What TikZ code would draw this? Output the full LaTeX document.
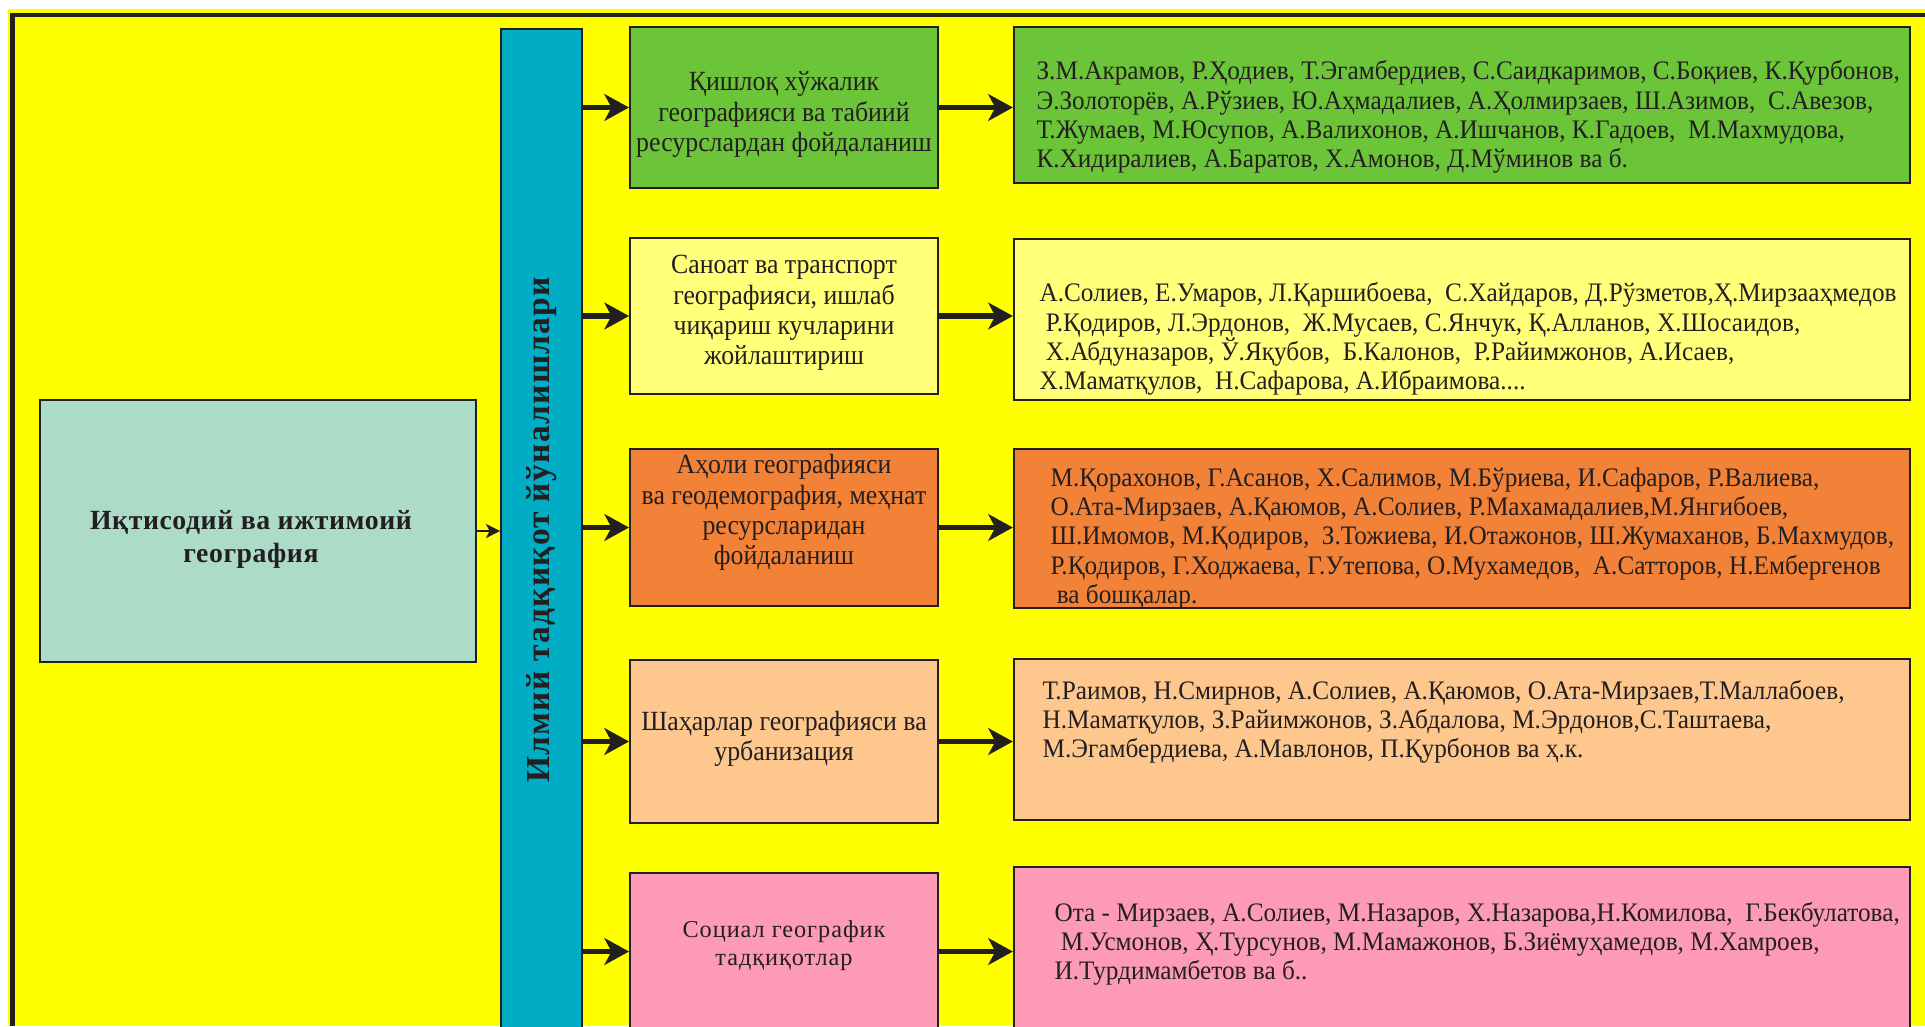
\documentclass[tikz,border=0pt]{standalone}
\usepackage{fontspec}
\setmainfont{Liberation Serif}
\usetikzlibrary{arrows.meta}

\definecolor{bgyel}{RGB}{255,255,0}
\definecolor{barblue}{RGB}{0,173,196}
\definecolor{mint}{RGB}{172,219,200}
\definecolor{agrgreen}{RGB}{108,196,56}
\definecolor{indyel}{RGB}{255,255,122}
\definecolor{poporange}{RGB}{242,130,56}
\definecolor{citypeach}{RGB}{253,199,141}
\definecolor{socpink}{RGB}{253,155,182}
\definecolor{ink}{RGB}{35,31,32}

\begin{document}
\begin{tikzpicture}[x=0.01cm, y=-0.01cm,
  box/.style={draw=ink, line width=0.5pt, inner sep=0pt},
  mid/.style={box, minimum width=3.08cm},
  names/.style={box, minimum width=8.96cm},
  midtext/.style={align=center, inner sep=0pt, text=ink, font=\fontsize{7.9}{8.6}\selectfont\addfontfeature{FakeStretch=0.93}},
  namestext/.style={align=left, anchor=west, inner sep=0pt, text=ink, font=\fontsize{7.6}{8.3}\selectfont\addfontfeature{FakeStretch=0.945}},
  arr/.style={line width=1.5pt, draw=ink, -{Stealth[length=7pt,width=7.6pt,inset=2pt]}},
  thinarr/.style={line width=0.5pt, draw=ink, -{Stealth[length=4pt,width=4pt,inset=1pt]}}]
\useasboundingbox (0,0) rectangle (1925,1026);
\clip (0,0) rectangle (1925,1026);
\fill[bgyel] (8,9) rectangle (1925,1026); % background
\draw[ink, line width=1.3pt] (12.5,1026) -- (12.5,15) -- (1925,15); % frame

\node[box, fill=mint, minimum width=4.355cm, minimum height=2.62cm] (econ) at (258,531) {}; % root
\node[text=ink, align=center, inner sep=0pt, font=\bfseries\fontsize{7.9}{9.4}\selectfont\addfontfeature{LetterSpace=2}]
  (econtext) at ([shift={(-7,8)}]econ.center) {Иқтисодий ва ижтимоий\\география};
\node[box, fill=barblue, minimum width=0.81cm, minimum height=10.02cm] (bar) at (541.5,530)
  {\rotatebox{90}{\bfseries\fontsize{9.5}{11}\selectfont\addfontfeature{LetterSpace=4}\color{ink}Илмий тадқиқот йўналишлари}}; % directions

% directions
\node[mid, fill=agrgreen, minimum height=1.61cm] (agro) at (784,107.5) {};
\node[midtext] (agrotext) at ([shift={(0,7)}]agro.center) {Қишлоқ хўжалик\\географияси ва табиий\\ресурслардан фойдаланиш};
\node[mid, fill=indyel, minimum height=1.56cm] (ind) at (784,316) {};
\node[midtext] (indtext) at ([shift={(0,-3)}]ind.center) {Саноат ва транспорт\\географияси, ишлаб\\чиқариш кучларини\\жойлаштириш};
\node[mid, fill=poporange, minimum height=1.57cm] (pop) at (784,527.5) {};
\node[midtext] (poptext) at ([shift={(0,-15)}]pop.center) {Аҳоли географияси\\ва геодемография, меҳнат\\ресурсларидан\\фойдаланиш};
\node[mid, fill=citypeach, minimum height=1.63cm] (urb) at (784,741.5) {};
\node[midtext] (urbtext) at ([shift={(0,-3)}]urb.center) {Шаҳарлар географияси ва\\урбанизация};
\node[mid, fill=socpink, minimum height=1.57cm] (soc) at (784,951.5) {};
\node[midtext, font=\fontsize{6.9}{8}\selectfont\addfontfeature{LetterSpace=4}] (soctext) at ([shift={(0,-6)}]soc.center) {Социал географик\\тадқиқотлар};

% researchers
\node[names, fill=agrgreen, minimum height=1.56cm] (agronames) at (1462,105) {};
\node[namestext] (agronamestext) at ([shift={(23,12)}]agronames.west) {З.М.Акрамов, Р.Ҳодиев, Т.Эгамбердиев, С.Саидкаримов, С.Боқиев, К.Қурбонов,\\Э.Золоторёв, А.Рўзиев, Ю.Аҳмадалиев, А.Ҳолмирзаев, Ш.Азимов, \ С.Авезов,\\Т.Жумаев, М.Юсупов, А.Валихонов, А.Ишчанов, К.Гадоев, \ М.Махмудова,\\К.Хидиралиев, А.Баратов, Х.Амонов, Д.Мўминов ва б.};
\node[names, fill=indyel, minimum height=1.61cm] (indnames) at (1462,319.5) {};
\node[namestext] (indnamestext) at ([shift={(26,19.5)}]indnames.west) {А.Солиев, Е.Умаров, Л.Қаршибоева, \ С.Хайдаров, Д.Рўзметов,Ҳ.Мирзааҳмедов\\\ Р.Қодиров, Л.Эрдонов, \ Ж.Мусаев, С.Янчук, Қ.Алланов, Х.Шосаидов,\\\ Х.Абдуназаров, Ў.Яқубов, \ Б.Калонов, \ Р.Райимжонов, А.Исаев,\\Х.Маматқулов, \ Н.Сафарова, А.Ибраимова....};
\node[names, fill=poporange, minimum height=1.59cm] (popnames) at (1462,528.5) {};
\node[namestext] (popnamestext) at ([shift={(37,10)}]popnames.west) {М.Қорахонов, Г.Асанов, Х.Салимов, М.Бўриева, И.Сафаров, Р.Валиева,\\О.Ата-Мирзаев, А.Қаюмов, А.Солиев, Р.Махамадалиев,М.Янгибоев,\\Ш.Имомов, М.Қодиров, \ З.Тожиева, И.Отажонов, Ш.Жумаханов, Б.Махмудов,\\Р.Қодиров, Г.Ходжаева, Г.Утепова, О.Мухамедов, \ А.Сатторов, Н.Ембергенов\\\ ва бошқалар.};
\node[names, fill=citypeach, minimum height=1.61cm] (urbnames) at (1462,739.5) {};
\node[namestext] (urbnamestext) at ([shift={(29,-18)}]urbnames.west) {Т.Раимов, Н.Смирнов, А.Солиев, А.Қаюмов, О.Ата-Мирзаев,Т.Маллабоев,\\Н.Маматқулов, З.Райимжонов, З.Абдалова, М.Эрдонов,С.Таштаева,\\М.Эгамбердиева, А.Мавлонов, П.Қурбонов ва ҳ.к.};
\node[names, fill=socpink, minimum height=1.63cm] (socnames) at (1462,948.5) {};
\node[namestext] (socnamestext) at ([shift={(41,-5)}]socnames.west) {Ота - Мирзаев, А.Солиев, М.Назаров, Х.Назарова,Н.Комилова, \ Г.Бекбулатова,\\\ М.Усмонов, Ҳ.Турсунов, М.Мамажонов, Б.Зиёмуҳамедов, М.Хамроев,\\И.Турдимамбетов ва б..};

% connectors
\draw[thinarr] (econ.east) -- (econ.east -| bar.west);
\draw[arr] (bar.east |- agro.west) -- (agro.west);
\draw[arr] (bar.east |- ind.west) -- (ind.west);
\draw[arr] (bar.east |- pop.west) -- (pop.west);
\draw[arr] (bar.east |- urb.west) -- (urb.west);
\draw[arr] (bar.east |- soc.west) -- (soc.west);
\draw[arr] (agro.east) -- (agro.east -| agronames.west);
\draw[arr] (ind.east) -- (ind.east -| indnames.west);
\draw[arr] (pop.east) -- (pop.east -| popnames.west);
\draw[arr] (urb.east) -- (urb.east -| urbnames.west);
\draw[arr] (soc.east) -- (soc.east -| socnames.west);
\end{tikzpicture}
\end{document}
